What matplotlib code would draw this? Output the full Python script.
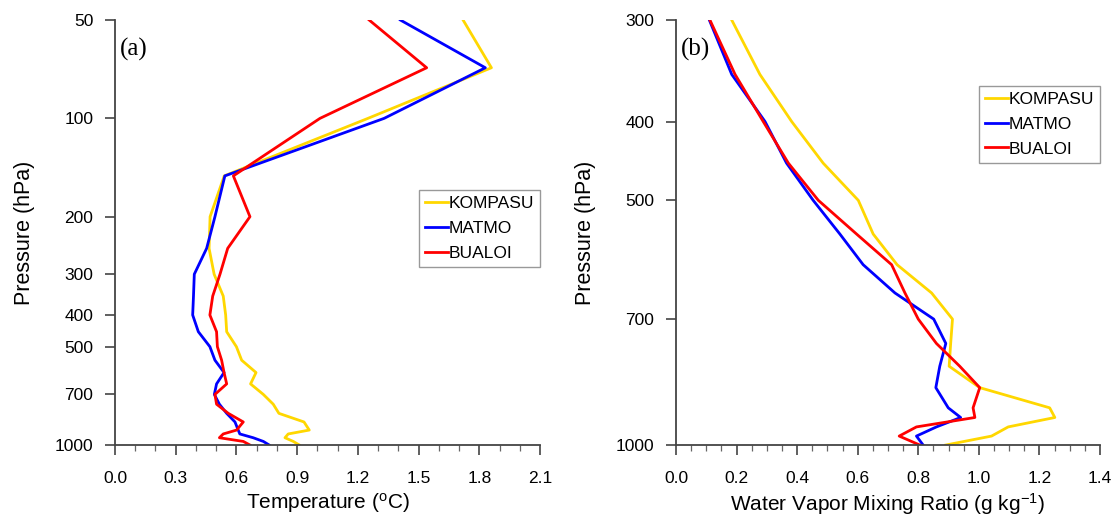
import matplotlib
matplotlib.use('Agg')
from matplotlib import pyplot as plt
from matplotlib.ticker import FixedLocator, MultipleLocator, NullLocator, FormatStrFormatter

# panel (a): temperature profiles
levels_a = [50, 70, 100, 150, 200, 250, 300, 350, 400, 450, 500, 550, 600,
            650, 700, 750, 800, 850, 900, 925, 950, 975, 1000]
temp_kompasu = [1.72, 1.86, 1.25, 0.54, 0.47, 0.465, 0.49, 0.535, 0.547, 0.552, 0.60, 0.626,
                0.697, 0.670, 0.733, 0.782, 0.810, 0.934, 0.960, 0.856, 0.840, 0.881, 0.911]
temp_matmo = [1.41, 1.83, 1.33, 0.543, 0.494, 0.453, 0.392, 0.388, 0.384, 0.412, 0.469, 0.494,
              0.539, 0.502, 0.491, 0.516, 0.552, 0.593, 0.609, 0.617, 0.683, 0.733, 0.762]
temp_bualoi = [1.256, 1.54, 1.013, 0.585, 0.667, 0.557, 0.519, 0.483, 0.469, 0.502, 0.506, 0.527,
               0.539, 0.552, 0.494, 0.502, 0.560, 0.634, 0.601, 0.535, 0.516, 0.634, 0.667]

# panel (b): water vapor mixing ratio profiles
levels_b = [300, 350, 400, 450, 500, 550, 600, 650, 700, 750, 800, 850, 900, 925, 950, 975, 1000]
qv_kompasu = [0.184, 0.277, 0.382, 0.486, 0.602, 0.651, 0.730, 0.844, 0.913, 0.907, 0.902,
              1.003, 1.234, 1.251, 1.097, 1.042, 0.891]
qv_matmo = [0.110, 0.184, 0.294, 0.365, 0.453, 0.541, 0.618, 0.723, 0.851, 0.891, 0.871,
            0.858, 0.899, 0.940, 0.860, 0.794, 0.816]
qv_bualoi = [0.112, 0.195, 0.288, 0.371, 0.470, 0.596, 0.712, 0.756, 0.800, 0.860, 0.937,
             1.003, 0.981, 0.987, 0.794, 0.737, 0.805]

names = ['KOMPASU', 'MATMO', 'BUALOI']
colors = ['#FFD700', '#0000FF', '#FF0000']

yticks_a = [50, 100, 200, 300, 400, 500, 700, 1000]
yticks_b = [300, 400, 500, 700, 1000]

sans = ['Liberation Sans', 'DejaVu Sans']
serif = ['Liberation Serif', 'DejaVu Serif']
plt.rcParams['font.family'] = sans
plt.rcParams['mathtext.default'] = 'regular'

fig = plt.figure(figsize=(11.15, 5.2), dpi=100)
ax1 = fig.add_axes([0.1031, 0.1442, 0.3812, 0.8173])
ax2 = fig.add_axes([0.6063, 0.1442, 0.3802, 0.8173])


def style_axis(ax, yticks, ylim, xmax, xmajor, xminor):
    ax.set_yscale('log')
    ax.set_ylim(ylim[1], ylim[0])
    ax.yaxis.set_major_locator(FixedLocator(yticks))
    ax.yaxis.set_minor_locator(NullLocator())
    ax.set_yticklabels([str(t) for t in yticks])
    ax.set_xlim(0, xmax)
    ax.xaxis.set_major_locator(MultipleLocator(xmajor))
    ax.xaxis.set_minor_locator(MultipleLocator(xminor))
    ax.xaxis.set_major_formatter(FormatStrFormatter('%.1f'))
    for s in ['top', 'right']:
        ax.spines[s].set_visible(False)
    for s in ['left', 'bottom']:
        ax.spines[s].set_color('#444444')
        ax.spines[s].set_linewidth(1.3)
    ax.tick_params(which='major', direction='out', length=7.5, width=1.2,
                   color='#444444', labelsize=12.5)
    ax.tick_params(axis='x', which='major', pad=11)
    ax.tick_params(axis='y', which='major', pad=8)
    ax.tick_params(which='minor', direction='out', length=4, width=0.9, color='#666666')
    ax.set_ylabel('Pressure (hPa)', fontsize=15.5, labelpad=14)


for vals, name, c in zip([temp_kompasu, temp_matmo, temp_bualoi], names, colors):
    ax1.plot(vals, levels_a, color=c, lw=2.0, label=name)
style_axis(ax1, yticks_a, (50, 1000), 2.1, 0.3, 0.1)
ax1.set_xlabel(r'Temperature ($^{o}$C)', fontsize=15, labelpad=4)
ax1.text(0.012, 0.958, '(a)', transform=ax1.transAxes, fontsize=18,
         family=serif, va='top', ha='left')

for vals, name, c in zip([qv_kompasu, qv_matmo, qv_bualoi], names, colors):
    ax2.plot(vals, levels_b, color=c, lw=2.0, label=name)
style_axis(ax2, yticks_b, (300, 1000), 1.4, 0.2, 0.05)
ax2.set_xlabel(r'Water Vapor Mixing Ratio (g kg$^{-1}$)', fontsize=15, labelpad=4)
ax2.text(0.012, 0.958, '(b)', transform=ax2.transAxes, fontsize=18,
         family=serif, va='top', ha='left')

for ax, anchor in [(ax1, (1.0, 0.6)), (ax2, (1.0, 0.845))]:
    leg = ax.legend(loc='upper right', bbox_to_anchor=anchor, fancybox=False,
                    edgecolor='#999999', framealpha=1, handlelength=1.35,
                    handletextpad=0.0, labelspacing=0.55, borderpad=0.35,
                    borderaxespad=0, prop={'family': sans, 'size': 12.5})
    leg.get_frame().set_linewidth(1.0)

fig.savefig('out.png', dpi=100)
